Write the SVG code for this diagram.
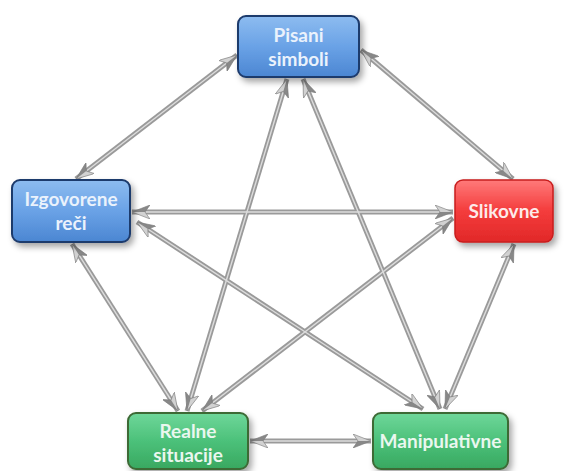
<svg xmlns="http://www.w3.org/2000/svg" xmlns:xlink="http://www.w3.org/1999/xlink" width="568" height="471" viewBox="0 0 568 471">
<style>
.c{fill:none;stroke:#9a9a9a;stroke-width:5;stroke-linecap:butt}
.h{fill:none;stroke:#dcdcdc;stroke-width:1.4}
.m{fill:none;stroke:none;marker-start:url(#ah);marker-end:url(#ah)}
.t{font-family:Lato,"Open Sans","Liberation Sans",sans-serif;font-weight:bold;font-size:19px;text-anchor:middle}
.tb{fill:#eaf2fc}
.tr{fill:#fdeaea}
.tg{fill:#eaf7ef}
</style>
<defs>
<linearGradient id="gb" x1="0" y1="0" x2="0" y2="1">
<stop offset="0" stop-color="#8dbcf0"/><stop offset="0.5" stop-color="#6aa2e6"/><stop offset="1" stop-color="#4b86d2"/>
</linearGradient>
<linearGradient id="gr" x1="0" y1="0" x2="0" y2="1">
<stop offset="0" stop-color="#ff7a7a"/><stop offset="0.5" stop-color="#f43c3c"/><stop offset="1" stop-color="#e12828"/>
</linearGradient>
<linearGradient id="gg" x1="0" y1="0" x2="0" y2="1">
<stop offset="0" stop-color="#6fd79a"/><stop offset="0.5" stop-color="#4cc17a"/><stop offset="1" stop-color="#38a860"/>
</linearGradient>
<filter id="sh" x="-20%" y="-20%" width="150%" height="160%">
<feDropShadow dx="3" dy="4" stdDeviation="3" flood-color="#000" flood-opacity="0.35"/>
</filter>
<marker id="ah" markerUnits="userSpaceOnUse" viewBox="0 0 18 14" markerWidth="18" markerHeight="14" refX="18" refY="7" orient="auto-start-reverse">
<path d="M0,0 L18,7 L5,7 Z" fill="#d2d2d2"/>
<path d="M5,7 L18,7 L0,14 Z" fill="#888888"/>
<path d="M0,0 L18,7 L0,14 L5,7 Z" fill="none" stroke="#787878" stroke-width="0.6"/>
</marker>
<path id="e1" d="M237,55 L76,179"/>
<path id="e2" d="M361,50 L513,179"/>
<path id="e3" d="M132,212 L453,212"/>
<path id="e4" d="M137,222 L423,409"/>
<path id="e5" d="M72,244 L178,411"/>
<path id="e6" d="M453,218 L202,411"/>
<path id="e7" d="M514,244 L445,409"/>
<path id="e8" d="M287,79 L187,411"/>
<path id="e9" d="M303,79 L440,409"/>
<path id="e10" d="M250,441 L371,441"/>
</defs>
<rect width="568" height="471" fill="#ffffff"/>
<g id="connectors">
<g>
<use xlink:href="#e1" class="c"/><use xlink:href="#e2" class="c"/><use xlink:href="#e3" class="c"/><use xlink:href="#e4" class="c"/><use xlink:href="#e5" class="c"/>
<use xlink:href="#e6" class="c"/><use xlink:href="#e7" class="c"/><use xlink:href="#e8" class="c"/><use xlink:href="#e9" class="c"/><use xlink:href="#e10" class="c"/>
</g>
<g>
<use xlink:href="#e1" class="h"/><use xlink:href="#e2" class="h"/><use xlink:href="#e3" class="h"/><use xlink:href="#e4" class="h"/><use xlink:href="#e5" class="h"/>
<use xlink:href="#e6" class="h"/><use xlink:href="#e7" class="h"/><use xlink:href="#e8" class="h"/><use xlink:href="#e9" class="h"/><use xlink:href="#e10" class="h"/>
</g>
<g>
<use xlink:href="#e1" class="m"/><use xlink:href="#e2" class="m"/><use xlink:href="#e3" class="m"/><use xlink:href="#e4" class="m"/><use xlink:href="#e5" class="m"/>
<use xlink:href="#e6" class="m"/><use xlink:href="#e7" class="m"/><use xlink:href="#e8" class="m"/><use xlink:href="#e9" class="m"/><use xlink:href="#e10" class="m"/>
</g>
</g>
<g id="pisani-simboli">
<rect x="238" y="16" width="121" height="61" rx="8" fill="url(#gb)" stroke="#1d3a6c" stroke-width="2" filter="url(#sh)"/>
<text class="t tb" x="298.5" y="42">Pisani</text>
<text class="t tb" x="298.5" y="66">simboli</text>
</g>
<g id="izgovorene-reci">
<rect x="12" y="180" width="118" height="62" rx="8" fill="url(#gb)" stroke="#1d3a6c" stroke-width="2" filter="url(#sh)"/>
<text class="t tb" x="71" y="206">Izgovorene</text>
<text class="t tb" x="71" y="230">reči</text>
</g>
<g id="slikovne">
<rect x="455" y="180" width="98" height="62" rx="8" fill="url(#gr)" stroke="#c81e1e" stroke-width="1.5" filter="url(#sh)"/>
<text class="t tr" x="504" y="218">Slikovne</text>
</g>
<g id="realne-situacije">
<rect x="128" y="413" width="120" height="56" rx="8" fill="url(#gg)" stroke="#3d6a36" stroke-width="2" filter="url(#sh)"/>
<text class="t tg" x="188" y="438">Realne</text>
<text class="t tg" x="188" y="462">situacije</text>
</g>
<g id="manipulativne">
<rect x="373" y="413" width="135" height="56" rx="8" fill="url(#gg)" stroke="#3d6a36" stroke-width="2" filter="url(#sh)"/>
<text class="t tg" x="440.5" y="448">Manipulativne</text>
</g>
</svg>
